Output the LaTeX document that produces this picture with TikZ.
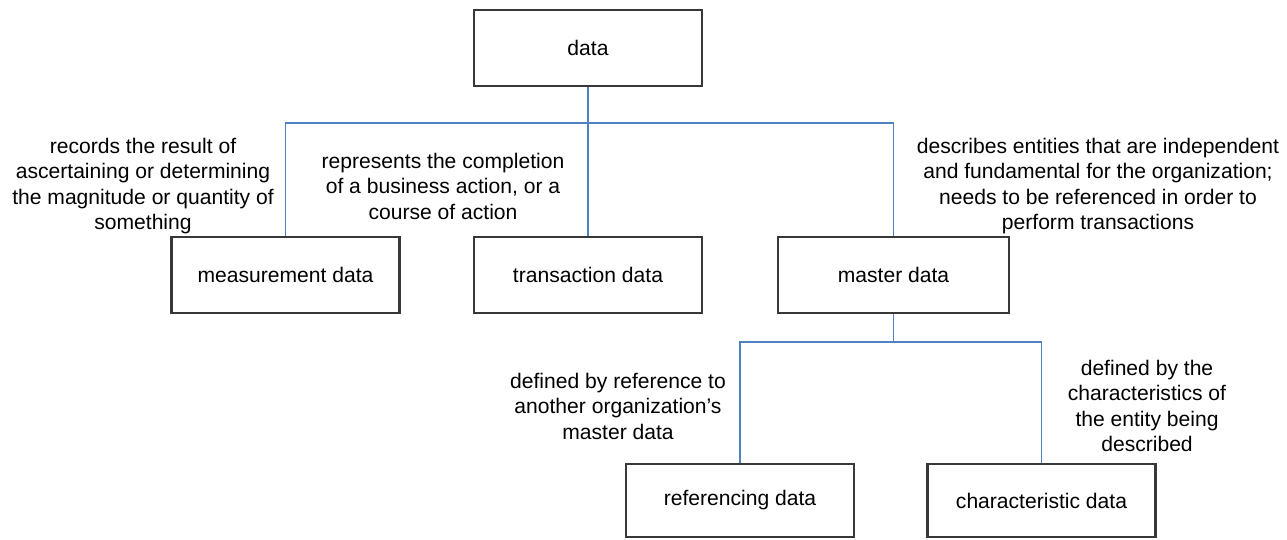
\documentclass[tikz,border=0pt]{standalone}
\usepackage{fontspec}
\setmainfont{Liberation Sans}
\usepackage{tikz}
\usetikzlibrary{positioning, calc}
\definecolor{BoxGray}{rgb}{0.22,0.22,0.22}
\definecolor{LinkBlue}{rgb}{0.31,0.51,0.76}

\begin{document}
\begin{tikzpicture}[x=0.02cm, y=-0.02cm,
    box/.style={draw=BoxGray, line width=1.2pt, fill=white, inner sep=0pt,
        minimum width=4.56cm, minimum height=1.52cm},
    lowbox/.style={box, minimum height=1.46cm},
    link/.style={draw=LinkBlue, line width=1pt},
    note/.style={align=center, inner sep=0pt}]

    \useasboundingbox (0,0) rectangle (1287,539);
    \fontsize{12}{14.5}\selectfont

    % boxes
    \node[box] (data) at (588,48) {data};
    \node[box] (meas) at (285.5,275) {measurement data};
    \node[box] (trans) at (588,275) {transaction data};
    \node[box, minimum width=4.62cm] (master) at (893.5,275) {master data};
    \node[lowbox] (ref) at (740,500.5) {referencing data};
    \node[lowbox] (char) at (1041.5,500.5) {characteristic data};

    % bars of the tree
    \coordinate (bar1) at (0,123);
    \coordinate (bar2) at (0,342);

    % connectors
    \draw[link] (data.south) -- (trans.north);
    \draw[link] (meas.north) -- (meas.north |- bar1) -- (master.north |- bar1) -- (master.north);
    \draw[link] (master.south) -- (master.south |- bar2);
    \draw[link] (ref.north) -- (ref.north |- bar2) -- (char.north |- bar2) -- (char.north);

    % notes
    \node[note] (measnote) at (143,186) {records the result of\\ascertaining or determining\\the magnitude or quantity of\\something};
    \node[note] (transnote) at (443,186) {represents the completion\\of a business action, or a\\course of action};
    \node[note] (masternote) at (1098,186) {describes entities that are independent\\and fundamental for the organization;\\needs to be referenced in order to\\perform transactions};
    \node[note] (refnote) at (618,406) {defined by reference to\\another organization's\\master data};
    \node[note] (charnote) at (1147,406) {defined by the\\characteristics of\\the entity being\\described};

\end{tikzpicture}
\end{document}
